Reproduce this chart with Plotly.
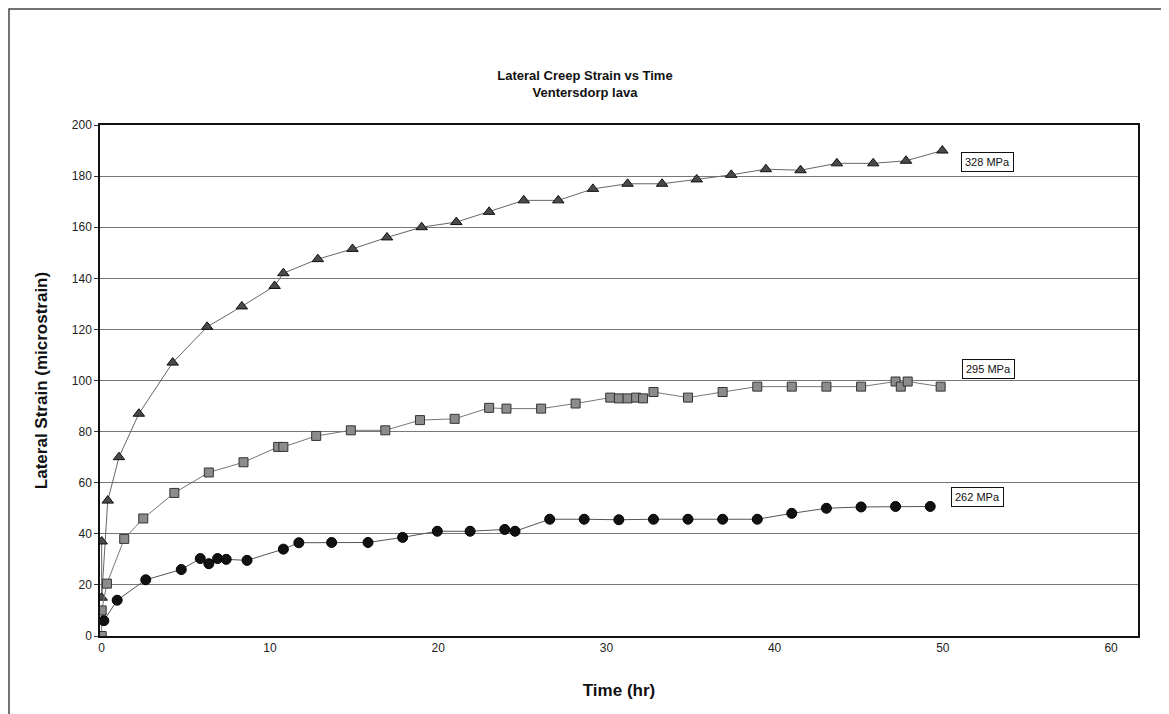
import plotly.graph_objects as go

# 328 MPa (triangles)
t_328 = [0.0, 0.0, 0.36, 1.03, 2.21, 4.22, 6.27, 8.33, 10.28, 10.80, 12.85, 14.91, 16.96, 19.02,
         21.08, 23.03, 25.09, 27.14, 29.20, 31.26, 33.31, 35.37, 37.42, 39.48, 41.54, 43.70,
         45.86, 47.81, 49.97]
s_328 = [37, 15, 53, 70, 87, 107, 121, 129, 137, 142, 147.5, 151.5, 156, 160, 162,
         166, 170.5, 170.5, 175, 177, 177, 178.7, 180.5, 182.7, 182.3, 185, 185, 186, 190]

# 295 MPa (squares)
t_295 = [0.0, 0.0, 0.31, 1.34, 2.47, 4.32, 6.37, 8.43, 10.49, 10.80, 12.75, 14.81, 16.86, 18.92,
         20.98, 23.03, 24.06, 26.12, 28.17, 30.23, 30.74, 31.26, 31.77, 32.18, 32.80, 34.85,
         36.91, 38.97, 41.02, 43.08, 45.14, 47.19, 47.50, 47.91, 49.87]
s_295 = [0, 10, 20.5, 38, 46, 56, 64, 68, 74, 74, 78.3, 80.5, 80.5, 84.5, 85,
         89.3, 89, 89, 91, 93.3, 93, 93, 93.3, 93, 95.5, 93.3, 95.5, 97.6, 97.6,
         97.6, 97.6, 99.6, 97.6, 99.6, 97.6]

# 262 MPa (circles)
t_262 = [0.13, 0.92, 2.62, 4.73, 5.86, 6.37, 6.89, 7.40, 8.64, 10.80, 11.72, 13.67, 15.83,
         17.89, 19.95, 21.90, 23.96, 24.57, 26.63, 28.68, 30.74, 32.80, 34.85, 36.91, 38.97,
         41.02, 43.08, 45.14, 47.19, 49.25]
s_262 = [6, 14, 22, 26, 30.3, 28.3, 30.3, 30, 29.6, 34, 36.5, 36.6, 36.6, 38.6, 41,
         41, 41.7, 41, 45.7, 45.7, 45.5, 45.7, 45.7, 45.7, 45.7, 48, 50, 50.5, 50.7, 50.7]

series_labels = ["328 MPa", "295 MPa", "262 MPa"]
label_x = [52.64, 52.74, 52.03]
label_y = [185.5, 104.5, 54.5]

x_ticks = [0, 10, 20, 30, 40, 50, 60]
y_ticks = [0, 20, 40, 60, 80, 100, 120, 140, 160, 180, 200]

FONT = "Liberation Sans, Arial, sans-serif"

# page body has an 8px margin; figure is placed at (8, 8)
FIG_W, FIG_H = 1161, 706
ML, MR, MT, MB = 92, 31, 117, 78
PW = FIG_W - ML - MR
PH = FIG_H - MT - MB
PL_PX, PB_PX = 8 + ML, 8 + MT + PH  # plot left / bottom in page pixels

fig = go.Figure()
fig.add_trace(go.Scatter(
    x=t_328, y=s_328, mode="lines+markers", name=series_labels[0],
    line=dict(color="#666666", width=1),
    marker=dict(symbol="triangle-up", size=10, color="#4a4a4a",
                line=dict(color="#111111", width=1))))
fig.add_trace(go.Scatter(
    x=t_295, y=s_295, mode="lines+markers", name=series_labels[1],
    line=dict(color="#777777", width=1),
    marker=dict(symbol="square", size=9, color="#8c8c8c",
                line=dict(color="#333333", width=1))))
fig.add_trace(go.Scatter(
    x=t_262, y=s_262, mode="lines+markers", name=series_labels[2],
    line=dict(color="#555555", width=1),
    marker=dict(symbol="circle", size=10, color="#111111",
                line=dict(color="#000000", width=1))))

for lab, lx, ly in zip(series_labels, label_x, label_y):
    fig.add_annotation(x=lx, y=ly, text=lab, showarrow=False,
                       font=dict(family=FONT, size=11, color="#111111"),
                       bordercolor="#111111", borderwidth=1, borderpad=3,
                       bgcolor="white")

# outer chart frame (page pixels converted to paper coords)
fig.add_shape(type="rect", xref="paper", yref="paper",
              x0=(9 - PL_PX) / PW, x1=(1166 - PL_PX) / PW,
              y0=(PB_PX - 760) / PH, y1=(PB_PX - 9) / PH,
              line=dict(color="#444444", width=1.5), layer="below")

fig.update_layout(
    width=FIG_W, height=FIG_H,
    margin=dict(l=ML, r=MR, t=MT, b=MB),
    paper_bgcolor="white", plot_bgcolor="white",
    showlegend=False,
    font=dict(family=FONT, color="#111111"),
    title=dict(text="<b>Lateral Creep Strain vs Time<br>Ventersdorp lava</b>",
               x=(585 - 8) / FIG_W, xanchor="center", xref="container",
               y=1 - (80 - 8) / FIG_H, yanchor="middle", yref="container",
               font=dict(family=FONT, size=13, color="#111111")),
    xaxis=dict(range=[-0.1, 61.6], tickvals=x_ticks, showgrid=False, zeroline=False,
               showline=True, linecolor="#111111", linewidth=1.5, mirror=True,
               ticks="", tickfont=dict(family=FONT, size=12, color="#222222"),
               title=dict(text="<b>Time (hr)</b>", font=dict(family=FONT, size=17, color="#111111"),
                          standoff=30)),
    yaxis=dict(range=[0, 200], tickvals=y_ticks, showgrid=True, gridcolor="#777777", gridwidth=1,
               zeroline=False, showline=True, linecolor="#111111", linewidth=1.5, mirror=True,
               ticks="outside", ticklen=4, tickcolor="#333333",
               tickfont=dict(family=FONT, size=12, color="#222222"),
               title=dict(text="<b>Lateral Strain (microstrain)</b>",
                          font=dict(family=FONT, size=17, color="#111111"), standoff=20)),
)

fig.write_html("out.html")
